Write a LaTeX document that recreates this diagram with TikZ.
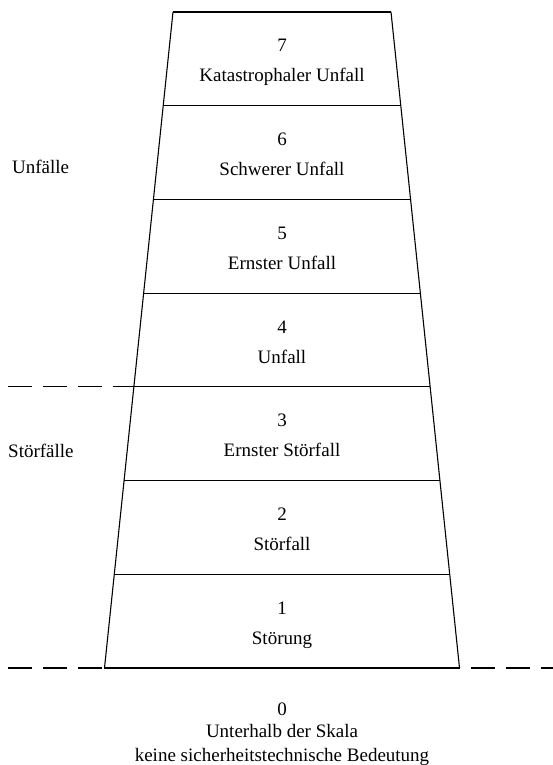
\documentclass[tikz,border=0pt]{standalone}
\usepackage{fontspec}
\setmainfont{Liberation Serif}
\usetikzlibrary{positioning, calc}

\begin{document}
\begin{tikzpicture}[
    x=1pt, y=-1pt,
    level/.style={line width=1.1pt},
    txt/.style={font=\fontsize{19}{22}\selectfont, inner sep=0pt, anchor=base},
    side/.style={font=\fontsize{19}{22}\selectfont, inner sep=0pt, anchor=base west},
    border/.style={line width=1.1pt, dash pattern=on 24pt off 11pt}
]
\useasboundingbox (0,0) rectangle (553,765);

% Corners of the levels
\foreach \i in {0,...,7} {
  \coordinate (l\i) at ({282-109-9.786*\i},{12+93.714*\i});
  \coordinate (r\i) at ({282+109+9.786*\i},{12+93.714*\i});
}

% Scale
\draw[level] (l0) -- (l7);
\draw[level] (r0) -- (r7);
\foreach \i in {0,...,7}
  \draw[level] (l\i) -- (r\i);

% Levels 7 ... 1
\foreach \n/\t [count=\i from 0] in {7/Katastrophaler Unfall, 6/Schwerer Unfall,
    5/Ernster Unfall, 4/Unfall, 3/Ernster Störfall, 2/Störfall, 1/Störung} {
  \node[txt] (num\n) at (282, {12+93.714*\i+40}) {\n};
  \node[txt] (lab\n) at (282, {12+93.714*\i+70}) {\t};
}

% Groups
\node[side] (unfaelle) at (12,173) {Unfälle};
\node[side] (stoerfaelle) at (8,457) {Störfälle};

% Borders
\coordinate (midleft) at (8,{12+93.714*4});
\coordinate (lowleft) at (8,{12+93.714*7});
\coordinate (lowright) at (553,{12+93.714*7});
\draw[border] (midleft) -- (l4);
\draw[border] (lowleft) -- (l7);
\draw[border, dash phase=24pt] (r7) -- (lowright);

% Below the scale
\node[txt] (zero) at (282,715) {0};
\node[txt] (below) at (282,737) {Unterhalb der Skala};
\node[txt] (nomeaning) at (282,761) {keine sicherheitstechnische Bedeutung};

\end{tikzpicture}
\end{document}
